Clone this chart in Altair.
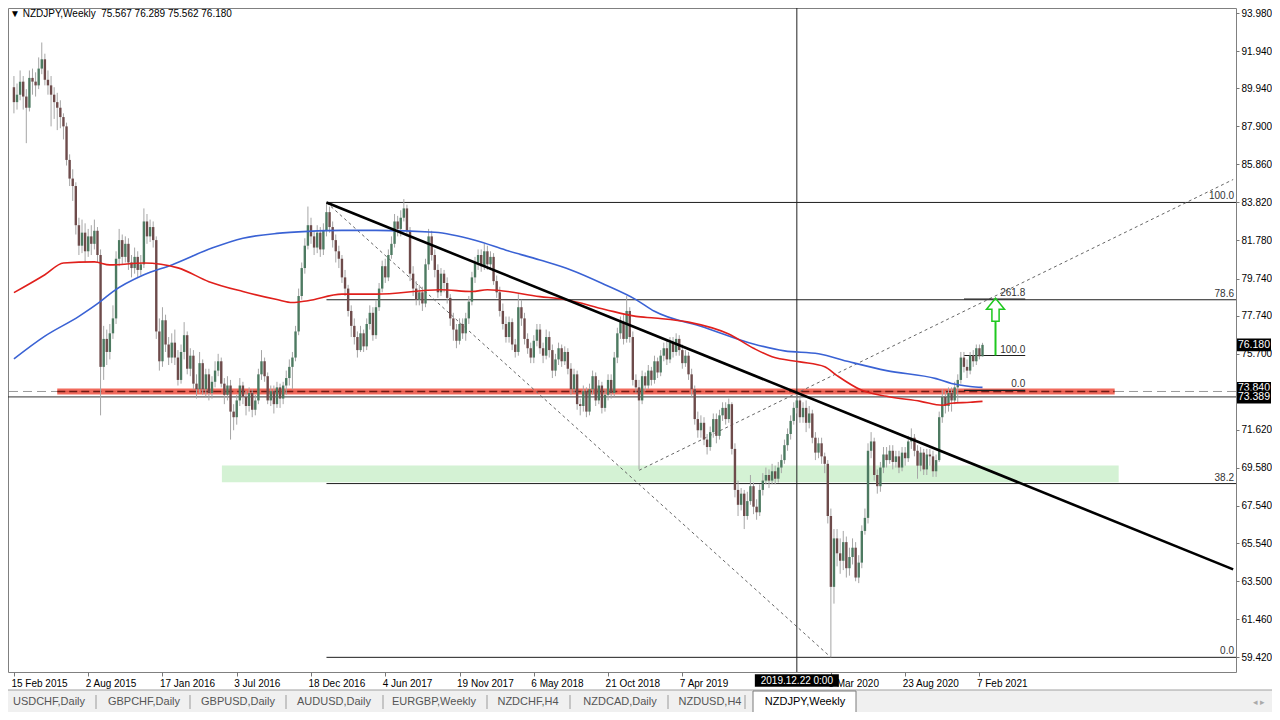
import altair as alt
import numpy as np
import pandas as pd

# ---------------- data ----------------
BASE_DATE = "2015-02-15"          # first weekly bar
FIRST_OPEN = 90.0

CLOSE = [
    89.2, 89.6, 90.3, 89.5, 88.9, 90.5, 90.3, 90.1, 91.0, 91.5,
    90.4, 90.1, 89.6, 89.2, 88.9, 88.4, 87.9, 86.1, 85.1, 84.7,
    82.6, 81.5, 82.2, 81.2, 82.0, 81.6, 82.3, 81.0, 75.0, 76.5,
    75.8, 76.8, 77.6, 80.8, 81.8, 80.9, 81.6, 80.6, 80.3, 80.9,
    80.2, 80.5, 82.8, 82.0, 82.5, 81.8, 76.9, 75.3, 77.5, 76.2,
    75.5, 76.3, 75.5, 74.3, 75.8, 76.7, 74.9, 75.6, 74.1, 73.8,
    75.2, 73.8, 74.6, 73.6, 74.2, 74.8, 75.3, 74.1, 73.5, 74.0,
    72.6, 72.3, 73.2, 74.0, 73.4, 72.9, 73.6, 72.7, 73.2, 74.6,
    75.3, 74.5, 73.2, 73.7, 73.0, 73.9, 73.3, 74.0, 74.4, 75.0,
    75.5, 76.9, 78.8, 80.3, 81.5, 82.6, 82.0, 81.4, 82.2, 81.3,
    82.3, 83.3, 82.5, 81.8, 81.2, 80.8, 79.8, 79.2, 78.0, 77.2,
    76.6, 75.9, 76.8, 76.1, 77.3, 77.9, 76.7, 78.2, 79.2, 80.4,
    79.8, 81.0, 81.6, 82.8, 82.4, 83.0, 83.5, 82.3, 80.0, 79.2,
    78.6, 79.0, 78.4, 80.5, 82.0, 81.0, 80.2, 79.0, 80.0, 79.5,
    78.7, 77.6, 77.0, 76.4, 77.3, 76.8, 77.6, 78.5, 79.8, 80.6,
    81.0, 80.4, 81.2, 80.5, 80.9, 79.6, 79.0, 78.0, 77.3, 76.6,
    77.4, 76.2, 75.8, 78.2, 77.6, 76.5, 76.0, 75.5, 76.4, 77.0,
    76.0, 75.6, 76.6, 75.9, 74.8, 75.4, 76.0, 75.3, 75.8, 74.9,
    73.8, 74.6, 73.0, 72.9, 73.7, 72.6, 73.8, 74.5, 73.2, 74.0,
    72.8, 73.5, 74.3, 73.6, 75.5, 76.8, 77.4, 76.5, 78.0, 76.6,
    74.3, 73.9, 73.2, 74.5, 74.0, 74.8, 74.3, 75.3, 74.7, 75.6,
    76.0, 75.4, 76.3, 75.8, 76.5, 75.9, 75.2, 75.6, 74.6, 73.8,
    72.2, 71.6, 72.0, 71.1, 70.7, 71.5, 72.2, 71.3, 72.4, 72.8,
    72.2, 73.0, 70.6, 68.4, 67.6, 68.2, 67.0, 67.8, 68.6, 67.5,
    67.2, 68.4, 68.9, 69.2, 68.9, 69.4, 69.0, 69.6, 70.0, 70.8,
    71.4, 72.1, 72.8, 73.2, 72.3, 72.8, 72.0, 72.5, 71.2, 70.4,
    70.9, 70.2, 69.8, 67.0, 63.2, 65.8, 65.0, 64.6, 65.6, 64.2,
    64.8, 65.3, 63.7, 64.5, 66.2, 66.9, 70.5, 71.0, 69.2, 68.6,
    69.6, 70.3, 70.0, 70.5, 69.9, 70.2, 69.6, 70.4, 70.1, 71.0,
    71.2, 70.5, 69.7, 70.4, 69.5, 70.3, 70.2, 69.4, 70.0, 72.3,
    73.4, 72.9, 73.6, 73.2, 73.9, 74.3, 75.5, 75.0, 74.8, 75.6,
    75.3, 76.0, 75.567, 76.18,
]
HIGH = [
    90.6, 90.2, 90.9, 90.6, 89.9, 90.9, 91.0, 90.8, 91.6, 92.4,
    91.8, 90.9, 90.6, 90.0, 89.7, 89.3, 88.6, 88.1, 86.4, 85.6,
    84.9, 83.0, 82.9, 82.7, 82.4, 82.6, 82.9, 82.5, 81.3, 77.2,
    77.0, 77.3, 78.3, 81.2, 82.4, 82.1, 82.0, 81.9, 81.0, 81.4,
    81.2, 81.0, 83.5, 83.2, 82.9, 82.8, 82.0, 77.6, 78.2, 77.8,
    76.6, 76.8, 77.0, 75.9, 76.2, 77.4, 76.9, 76.0, 75.9, 74.6,
    75.8, 75.4, 74.9, 74.9, 74.5, 75.3, 75.7, 75.5, 74.4, 74.5,
    74.3, 73.0, 73.5, 74.4, 74.2, 73.7, 73.9, 73.8, 73.5, 74.9,
    75.9, 75.5, 74.7, 74.0, 74.0, 74.2, 74.1, 74.2, 74.8, 75.4,
    75.8, 77.2, 79.2, 80.6, 81.9, 83.6, 83.0, 82.3, 82.6, 82.5,
    82.7, 83.85, 83.6, 82.8, 82.1, 81.5, 81.0, 80.2, 79.4, 78.3,
    77.6, 76.9, 77.2, 77.0, 77.6, 78.3, 78.2, 78.6, 79.5, 80.7,
    80.8, 81.3, 82.0, 83.2, 83.1, 83.4, 84.0, 83.7, 82.5, 80.4,
    79.6, 79.4, 79.3, 80.8, 82.4, 82.3, 81.3, 80.5, 80.3, 80.2,
    79.8, 78.9, 77.9, 77.3, 77.6, 77.6, 77.9, 78.8, 80.1, 80.9,
    81.3, 81.3, 81.6, 81.5, 81.2, 81.1, 79.9, 79.3, 78.4, 77.7,
    77.7, 77.6, 76.5, 78.9, 78.6, 77.9, 76.8, 76.3, 76.7, 77.3,
    77.3, 76.3, 77.0, 76.9, 76.2, 75.7, 76.3, 76.2, 76.1, 76.0,
    75.2, 74.9, 74.8, 73.3, 74.0, 73.9, 74.1, 74.8, 74.7, 74.3,
    74.2, 73.8, 74.6, 74.6, 75.8, 77.1, 77.7, 77.8, 78.8, 78.2,
    76.9, 74.6, 74.3, 74.8, 74.7, 75.1, 75.0, 75.6, 75.5, 75.9,
    76.3, 76.4, 76.6, 76.6, 76.8, 76.7, 76.2, 75.9, 75.8, 74.9,
    74.0, 72.6, 72.4, 72.3, 71.4, 71.8, 72.5, 72.5, 72.7, 73.1,
    73.1, 73.3, 73.1, 70.9, 68.9, 68.5, 68.4, 68.3, 69.2, 68.8,
    67.9, 68.7, 69.3, 69.6, 69.5, 69.8, 69.7, 69.9, 70.3, 71.1,
    71.7, 72.4, 73.1, 73.6, 73.4, 73.1, 73.2, 72.9, 72.7, 71.5,
    71.2, 71.2, 70.4, 70.0, 67.4, 66.3, 66.3, 65.8, 66.2, 65.9,
    65.3, 65.8, 65.6, 64.9, 66.5, 67.4, 70.9, 71.5, 71.2, 69.5,
    69.9, 70.7, 70.7, 70.8, 70.8, 70.5, 70.5, 70.7, 70.7, 71.3,
    71.7, 71.4, 70.8, 70.7, 70.6, 70.6, 70.6, 70.5, 70.3, 72.6,
    73.8, 73.7, 73.9, 73.9, 74.2, 74.6, 75.8, 75.8, 75.4, 75.8,
    75.9, 76.2, 76.2, 76.289,
]
LOW = [
    88.6, 88.8, 89.3, 88.8, 87.0, 88.7, 89.6, 89.5, 89.9, 90.7,
    90.1, 89.6, 87.9, 88.3, 87.7, 87.8, 87.2, 85.8, 84.7, 83.9,
    82.1, 81.0, 81.1, 80.6, 80.9, 81.0, 81.3, 80.6, 72.4, 74.3,
    75.1, 75.4, 76.5, 77.3, 80.4, 80.5, 80.6, 80.2, 79.8, 80.0,
    79.8, 79.9, 80.3, 81.6, 81.7, 81.4, 76.5, 74.8, 75.0, 75.8,
    75.1, 75.2, 75.1, 74.0, 74.1, 75.4, 74.6, 74.5, 73.8, 73.3,
    73.6, 73.5, 73.4, 73.2, 73.3, 73.9, 74.5, 73.9, 73.0, 73.2,
    71.1, 71.6, 71.9, 72.9, 73.0, 72.4, 72.6, 72.3, 72.4, 73.0,
    74.3, 74.2, 73.0, 72.9, 72.5, 72.8, 72.8, 73.0, 73.5, 74.0,
    73.8, 75.3, 76.7, 78.6, 80.0, 81.3, 81.6, 81.0, 81.1, 80.9,
    81.0, 82.0, 82.2, 81.4, 80.6, 80.3, 79.5, 78.8, 77.7, 76.6,
    76.2, 75.5, 75.8, 75.8, 75.9, 77.0, 76.4, 76.5, 78.0, 79.0,
    79.5, 79.6, 80.8, 81.4, 82.0, 82.0, 82.8, 82.0, 79.6, 78.8,
    78.3, 78.3, 78.0, 78.2, 80.2, 80.7, 79.8, 78.7, 78.8, 79.0,
    78.4, 77.2, 76.4, 76.0, 76.2, 76.5, 76.4, 77.3, 78.3, 79.5,
    80.2, 80.1, 80.2, 80.2, 80.3, 79.4, 78.7, 77.7, 77.0, 76.3,
    76.3, 75.9, 75.5, 75.6, 77.2, 76.2, 75.7, 75.2, 75.2, 76.1,
    75.7, 75.2, 75.4, 75.5, 74.4, 74.5, 75.1, 75.0, 75.1, 74.6,
    73.5, 73.6, 72.7, 72.4, 72.6, 72.3, 72.4, 73.5, 72.9, 73.0,
    72.5, 72.6, 73.2, 73.3, 73.4, 75.2, 76.5, 76.2, 76.3, 76.3,
    74.0, 73.6, 69.5, 73.0, 73.7, 73.8, 74.0, 74.1, 74.4, 74.5,
    75.3, 75.1, 75.2, 75.5, 75.6, 75.6, 74.9, 75.0, 74.3, 73.4,
    71.9, 71.2, 71.2, 70.8, 70.3, 70.5, 71.2, 70.9, 71.1, 72.1,
    71.9, 72.0, 70.3, 68.0, 67.0, 67.3, 66.3, 66.8, 67.6, 67.1,
    66.8, 67.0, 68.1, 68.7, 68.5, 68.7, 68.7, 68.8, 69.3, 69.8,
    70.5, 71.1, 71.9, 72.5, 72.0, 72.0, 71.5, 71.7, 70.9, 70.0,
    70.1, 69.8, 69.3, 66.6, 59.42, 62.3, 64.3, 63.9, 64.1, 63.7,
    63.8, 64.4, 63.5, 63.4, 64.2, 66.0, 66.6, 70.1, 68.9, 68.2,
    68.3, 69.3, 69.6, 69.8, 69.5, 69.6, 69.3, 69.4, 69.7, 69.9,
    70.6, 70.2, 69.0, 69.4, 69.2, 69.2, 69.7, 69.1, 69.1, 69.9,
    72.0, 72.5, 72.6, 72.6, 73.0, 73.1, 74.1, 74.7, 74.4, 74.6,
    75.0, 75.1, 75.4, 75.562,
]

# moving averages, read at sample weeks
BLUE_MA_WEEK = [0, 10, 21, 28, 32, 42, 51, 64, 74, 85, 95, 106, 117, 136, 149, 159,
                170, 180, 191, 201, 207, 223, 239, 249, 260, 270, 282, 298, 303, 309, 313]
BLUE_MA = [75.43, 76.65, 77.71, 78.51, 79.04, 79.94, 80.47, 81.37, 81.90, 82.16, 82.27,
           82.32, 82.32, 82.22, 81.79, 81.26, 80.73, 80.20, 79.41, 78.61, 77.98, 77.13,
           76.23, 75.86, 75.70, 75.27, 74.80, 74.37, 74.11, 73.95, 73.90]
RED_MA_WEEK = [0, 10, 16, 26, 31, 42, 53, 63, 74, 85, 90, 95, 106, 117, 138, 148, 153,
               170, 178, 191, 201, 207, 218, 231, 239, 245, 254, 262, 266, 274, 282, 293,
               300, 303, 309, 313]
RED_MA = [78.98, 79.94, 80.57, 80.63, 80.47, 80.57, 80.31, 79.57, 79.04, 78.61, 78.45,
          78.55, 78.90, 78.90, 79.14, 79.04, 79.14, 78.77, 78.61, 78.08, 77.71, 77.62,
          77.40, 76.76, 76.00, 75.54, 75.27, 75.01, 74.53, 73.74, 73.42, 73.15, 72.94,
          73.05, 73.10, 73.15]

# drawings (week index from BASE_DATE, price)
TREND_WEEK = [101, 394]
TREND_PRICE = [83.82, 64.14]
FIB1_START_WEEK = 101
FIB1_LEVEL = ["100.0", "78.6", "38.2", "0.0"]
FIB1_PRICE = [83.82, 78.60, 68.74, 59.42]
FIB1_DIAG_WEEK = [101, 264]
FIB1_DIAG_PRICE = [83.82, 59.42]
FIB2_DIAG_WEEK = [202, 394]
FIB2_DIAG_PRICE = [69.45, 85.05]
FIB2_WEEK = [307, 326.8]
FIB2_LEVEL = ["261.8", "100.0", "0.0"]
FIB2_PRICE = [78.64, 75.61, 73.74]
ZONE_WEEK = [67.2, 357]
ZONE_PRICE = [68.81, 69.71]
BAND_WEEK = [14, 355.7]
BAND_PRICE = [73.52, 73.84]
HLINE_DASHED = 73.68
HLINE_SOLID = 73.389
CROSS_WEEK = 253
CROSS_LABEL = "2019.12.22 0:00"
ARROW_WEEK = 317.2
ARROW_SHAFT = [75.61, 77.45]
ARROW_HEAD = 78.04
PRICE_TAGS = [73.84, 73.389, 76.18]

Y_TICKS = [93.980, 91.940, 89.940, 87.900, 85.860, 83.820, 81.780, 79.740, 77.740,
           75.700, 71.620, 69.580, 67.540, 65.540, 63.500, 61.460, 59.420]
X_TICK_DATES = ["2015-02-15", "2015-08-02", "2016-01-17", "2016-07-03", "2016-12-18",
                "2017-06-04", "2017-11-19", "2018-05-06", "2018-10-21", "2019-04-07",
                "2020-03-08", "2020-08-23", "2021-02-07"]

TITLE = "\u25BC NZDJPY,Weekly\u00a0\u00a075.567 76.289 75.562 76.180"
TABS = ["USDCHF,Daily", "GBPCHF,Daily", "GBPUSD,Daily", "AUDUSD,Daily", "EURGBP,Weekly",
        "NZDCHF,H4", "NZDCAD,Daily", "NZDUSD,H4"]
ACTIVE_TAB = "NZDJPY,Weekly"

# ---------------- helpers ----------------
BASE = pd.Timestamp(BASE_DATE)


def wk(n):
    return int((BASE + pd.Timedelta(days=7 * n)).value // 10**6)


def ms(d):
    return int(pd.Timestamp(d).value // 10**6)


W, H = 1228, 664
FONT = "Liberation Sans"
XS = alt.Scale(domain=[wk(-0.3), wk(393.3)], nice=False, zero=False)
YS = alt.Scale(domain=[58.633, 94.25], nice=False, zero=False)

X_AXIS = alt.Axis(values=[ms(d) for d in X_TICK_DATES],
                  labelExpr="utcFormat(datum.value, '%-d %b %Y')",
                  labelAlign="left", labelPadding=2, labelOffset=-3, tickSize=4,
                  tickColor="#777777", domain=False, grid=False, labelFont=FONT,
                  labelFontSize=10, labelColor="#000000", title=None,
                  labelOverlap=False, labelFlush=False)
Y_AXIS = alt.Axis(orient="right", values=Y_TICKS, format=".3f", tickSize=3,
                  tickColor="#777777", labelPadding=2, domain=False, grid=False,
                  labelFont=FONT, labelFontSize=10, labelColor="#000000",
                  title=None, labelOverlap=False, labelFlush=False)


def X(f="t"):
    return alt.X(f"{f}:Q", scale=XS, axis=X_AXIS)


def Y(f="p"):
    return alt.Y(f"{f}:Q", scale=YS, axis=Y_AXIS)


one = pd.DataFrame({"a": [0]})

candles = pd.DataFrame({
    "t": [wk(i) for i in range(len(CLOSE))],
    "open": [FIRST_OPEN] + CLOSE[:-1],
    "close": CLOSE,
    "high": HIGH,
    "low": LOW,
})
candles["dir"] = np.where(candles["close"] >= candles["open"], "up", "down")

blue = pd.DataFrame({"t": [wk(n) for n in BLUE_MA_WEEK], "p": BLUE_MA})
red = pd.DataFrame({"t": [wk(n) for n in RED_MA_WEEK], "p": RED_MA})

layers = []

# green zone
zone = pd.DataFrame({"t": [wk(ZONE_WEEK[0])], "t2": [wk(ZONE_WEEK[1])],
                     "p": [ZONE_PRICE[0]], "p2": [ZONE_PRICE[1]]})
layers.append(alt.Chart(zone).mark_rect(color="#d4f2d4", clip=True).encode(
    x=X(), x2="t2:Q", y=Y(), y2="p2:Q"))

# gray dashed horizontal line, red band, dark dashed, solid line
layers.append(alt.Chart(pd.DataFrame({"p": [HLINE_DASHED]})).mark_rule(
    color="#9a9a9a", strokeDash=[9, 5], strokeWidth=1).encode(y=Y()))
band = pd.DataFrame({"t": [wk(BAND_WEEK[0])], "t2": [wk(BAND_WEEK[1])],
                     "p": [BAND_PRICE[0]], "p2": [BAND_PRICE[1]]})
layers.append(alt.Chart(band).mark_rect(color="#ee5040", opacity=0.85, clip=True).encode(
    x=X(), x2="t2:Q", y=Y(), y2="p2:Q"))
band_line = pd.DataFrame({"t": [wk(BAND_WEEK[0])], "t2": [wk(BAND_WEEK[1])], "p": [HLINE_DASHED]})
layers.append(alt.Chart(band_line).mark_rule(color="#6e1a14", strokeDash=[8, 4], strokeWidth=1.3).encode(
    x=X(), x2="t2:Q", y=Y()))
layers.append(alt.Chart(pd.DataFrame({"p": [HLINE_SOLID]})).mark_rule(
    color="#333333", strokeWidth=1).encode(y=Y()))

# fib 1 levels
fib1 = pd.DataFrame({"t": [wk(FIB1_START_WEEK)] * 4, "p": FIB1_PRICE, "lab": FIB1_LEVEL})
layers.append(alt.Chart(fib1).mark_rule(color="#1e1e1e", strokeWidth=1).encode(
    x=X(), x2=alt.value(W), y=Y()))
layers.append(alt.Chart(fib1).mark_text(align="right", baseline="bottom", dy=-1, font=FONT,
                                        fontSize=10, color="#333333").encode(
    x=alt.value(W - 2), y=Y(), text="lab:N"))

# dashed diagonals
d1 = pd.DataFrame({"t": [wk(n) for n in FIB1_DIAG_WEEK], "p": FIB1_DIAG_PRICE})
layers.append(alt.Chart(d1).mark_line(color="#666666", strokeDash=[3, 3], strokeWidth=1, clip=True).encode(
    x=X(), y=Y()))
d2 = pd.DataFrame({"t": [wk(n) for n in FIB2_DIAG_WEEK], "p": FIB2_DIAG_PRICE})
layers.append(alt.Chart(d2).mark_line(color="#666666", strokeDash=[3, 3], strokeWidth=1, clip=True).encode(
    x=X(), y=Y()))

# fib 2 levels
fib2 = pd.DataFrame({"t": [wk(FIB2_WEEK[0])] * 3, "t2": [wk(FIB2_WEEK[1])] * 3,
                     "p": FIB2_PRICE, "lab": FIB2_LEVEL})
layers.append(alt.Chart(fib2).mark_rule(color="#1e1e1e", strokeWidth=1.2).encode(
    x=X(), x2="t2:Q", y=Y()))
layers.append(alt.Chart(fib2).mark_text(align="right", baseline="bottom", dy=-1, font=FONT,
                                        fontSize=10, color="#333333").encode(
    x=X("t2"), y=Y(), text="lab:N"))

# crosshair
cross = pd.DataFrame({"t": [wk(CROSS_WEEK)], "lab": [CROSS_LABEL]})
layers.append(alt.Chart(cross).mark_rule(color="#222222", strokeWidth=1).encode(x=X()))

# candles
layers.append(alt.Chart(candles).mark_rule(color="#a6a6a6", strokeWidth=1, clip=True).encode(
    x=X(), y=Y("low"), y2="high:Q"))
layers.append(alt.Chart(candles).mark_bar(size=2.4, clip=True).encode(
    x=X(), y=Y("open"), y2="close:Q",
    color=alt.Color("dir:N", scale=alt.Scale(domain=["up", "down"], range=["#4d7a61", "#6e4b4b"]),
                    legend=None)))

# moving averages
layers.append(alt.Chart(blue).mark_line(color="#3a62d4", strokeWidth=1.6, interpolate="monotone",
                                        clip=True).encode(x=X(), y=Y()))
layers.append(alt.Chart(red).mark_line(color="#e0201c", strokeWidth=1.6, interpolate="monotone",
                                       clip=True).encode(x=X(), y=Y()))

# trend line
trend = pd.DataFrame({"t": [wk(n) for n in TREND_WEEK], "p": TREND_PRICE})
layers.append(alt.Chart(trend).mark_line(color="#000000", strokeWidth=2.6, clip=True).encode(
    x=X(), y=Y()))

# green arrow
shaft = pd.DataFrame({"t": [wk(ARROW_WEEK)], "p": [ARROW_SHAFT[0]], "p2": [ARROW_SHAFT[1]]})
layers.append(alt.Chart(shaft).mark_rule(color="#1fc81f", strokeWidth=2).encode(
    x=X(), y=Y(), y2="p2:Q"))
ARROW_PATH = "M0,-1L0.75,-0.08L0.3,-0.08L0.3,0.92L-0.3,0.92L-0.3,-0.08L-0.75,-0.08Z"
head = pd.DataFrame({"t": [wk(ARROW_WEEK)], "p": [ARROW_HEAD]})
layers.append(alt.Chart(head).mark_point(shape=ARROW_PATH, filled=False, size=576, strokeWidth=1.5,
                                         color="#1fc81f", opacity=1).encode(x=X(), y=Y()))

# price tags on the right axis (the 73.389 tag sits over the upper one, as in MT4)
tags = pd.DataFrame({"p": PRICE_TAGS, "lab": [f"{v:.3f}" for v in PRICE_TAGS]})
TAG_PATH = "M-1,-0.382L1,-0.382L1,0.382L-1,0.382Z"
for i in range(len(PRICE_TAGS)):
    row = tags.iloc[[i]]
    layers.append(alt.Chart(row).mark_point(shape=TAG_PATH, filled=True, size=34 * 34, color="#000000",
                                            opacity=1).encode(x=alt.value(W + 18), y=Y()))
    layers.append(alt.Chart(row).mark_text(font=FONT, fontSize=10.5, color="#ffffff").encode(
        x=alt.value(W + 18), y=Y(), text="lab:N"))

# crosshair date box
BOX_PATH = "M-1,-0.151L1,-0.151L1,0.151L-1,0.151Z"
layers.append(alt.Chart(cross).mark_point(shape=BOX_PATH, filled=True, size=84 * 84, color="#000000",
                                          opacity=1).encode(x=X(), y=alt.value(H + 8.5)))
layers.append(alt.Chart(cross).mark_text(font=FONT, fontSize=10, color="#ffffff").encode(
    x=X(), y=alt.value(H + 8.5), text="lab:N"))

# title
layers.append(alt.Chart(pd.DataFrame({"lab": [TITLE]})).mark_text(
    align="left", baseline="middle", font=FONT, fontSize=10, color="#000000").encode(
    x=alt.value(2), y=alt.value(6), text="lab:N"))

# tab bar
layers.append(alt.Chart(one).mark_rect(color="#f0f0f0", stroke="#a0a0a0", strokeWidth=1).encode(
    x=alt.value(-1), x2=alt.value(W + 40), y=alt.value(H + 18), y2=alt.value(H + 41)))
TAB_CENTER = [41, 136, 230, 326, 426, 520, 612, 702]
SEP_X = [88, 182, 278, 375, 479, 562, 660, 737]
for lab, cx in zip(TABS, TAB_CENTER):
    layers.append(alt.Chart(pd.DataFrame({"lab": [lab]})).mark_text(
        font=FONT, fontSize=11, color="#555555").encode(
        x=alt.value(cx), y=alt.value(H + 30), text="lab:N"))
for sx in SEP_X:
    layers.append(alt.Chart(one).mark_rule(color="#9a9a9a").encode(
        x=alt.value(sx), y=alt.value(H + 23), y2=alt.value(H + 37)))
layers.append(alt.Chart(one).mark_rect(color="#ffffff", stroke="#7a7a7a", strokeWidth=1).encode(
    x=alt.value(745), x2=alt.value(848), y=alt.value(H + 19), y2=alt.value(H + 41)))
layers.append(alt.Chart(pd.DataFrame({"lab": [ACTIVE_TAB]})).mark_text(
    font=FONT, fontSize=11, color="#000000").encode(
    x=alt.value(797), y=alt.value(H + 30), text="lab:N"))
layers.append(alt.Chart(pd.DataFrame({"lab": ["\u25C2   \u25B8"]})).mark_text(
    font=FONT, fontSize=9, color="#aaaaaa").encode(
    x=alt.value(1251), y=alt.value(H + 30), text="lab:N"))

chart = alt.layer(*layers).properties(
    width=W, height=H,
    padding={"left": 0, "top": 0, "right": 36, "bottom": 40},
    autosize=alt.AutoSizeParams(type="none"),
    background="#ffffff",
).configure_view(stroke="#808080", strokeWidth=1)

chart.save("out.html", embed_options={"renderer": "svg", "actions": False})
